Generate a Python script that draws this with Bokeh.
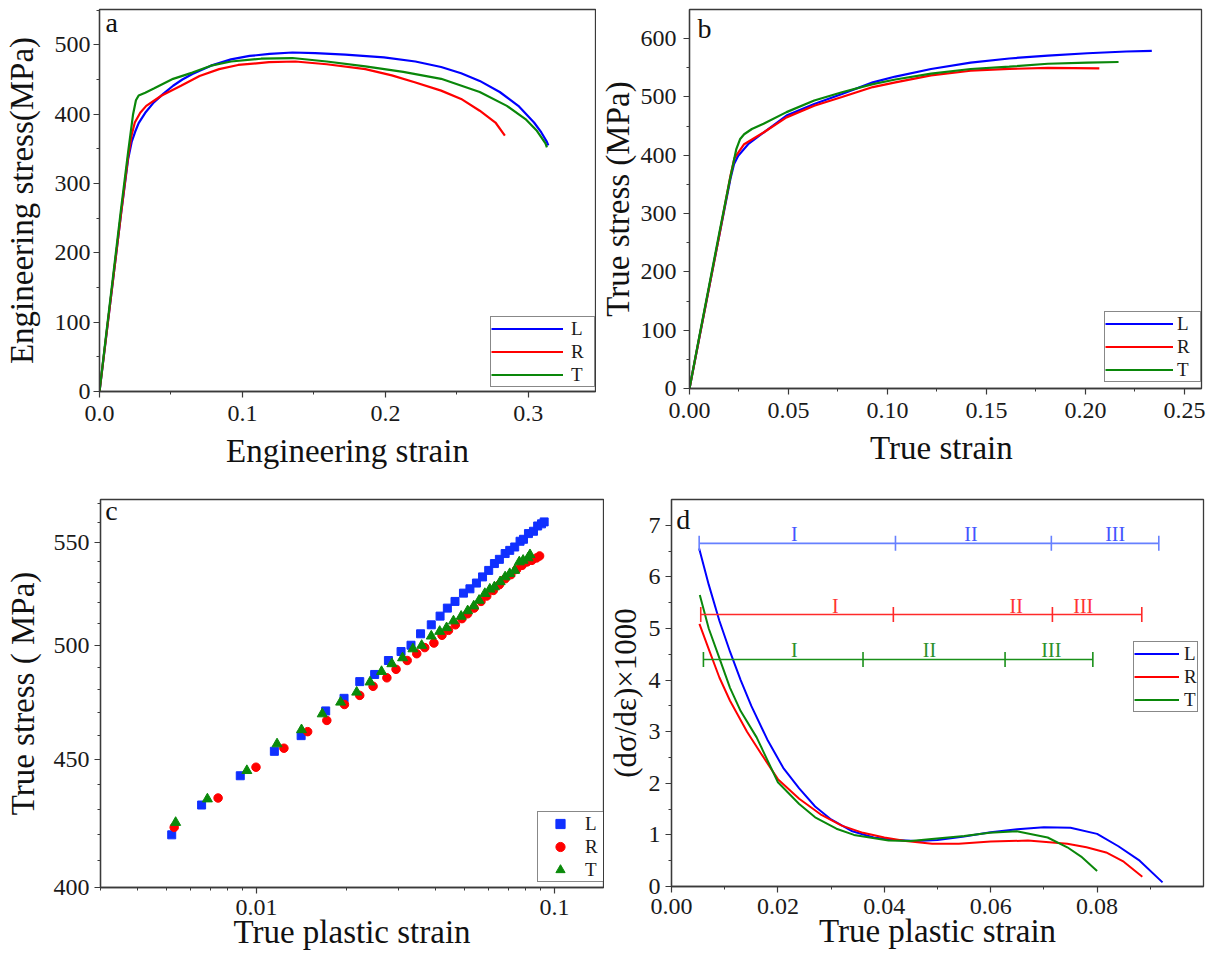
from bokeh.plotting import figure
from bokeh.layouts import column, row
from bokeh.models import FixedTicker, Label, Range1d, NumeralTickFormatter
from bokeh.embed import file_html
from bokeh.resources import INLINE
from bokeh.core.properties import value

FONT = "Liberation Serif"
BLUE, RED, GREEN = "#0000ff", "#ff0000", "#0a870a"

# ---------------- data: panel a (engineering stress-strain) ----------------
a_L_x = [0.0, 0.005, 0.010, 0.015, 0.020, 0.0225, 0.025, 0.0274, 0.032, 0.038, 0.045, 0.0515, 0.058, 0.065, 0.078,
         0.092, 0.105, 0.119, 0.135, 0.151, 0.172, 0.199, 0.221, 0.239, 0.253, 0.266, 0.280, 0.293, 0.304, 0.309,
         0.313, 0.314]
a_L_y = [0, 85, 170, 255, 335, 360, 375, 387, 402, 417, 430, 441, 450, 458, 470, 479, 484, 487, 489, 488, 486,
         482, 476, 468, 459, 448, 432, 412, 388, 374, 360, 355]
a_R_x = [0.0, 0.005, 0.010, 0.015, 0.020, 0.0225, 0.0247, 0.0285, 0.0327, 0.0435, 0.057, 0.070, 0.0837, 0.097,
         0.1186, 0.137, 0.159, 0.186, 0.2045, 0.2205, 0.239, 0.253, 0.266, 0.277, 0.2836]
a_R_y = [0, 85, 170, 255, 338, 370, 388, 402, 412, 427, 441, 455, 465, 471, 475, 476, 472, 465, 456, 446, 434,
         422, 405, 388, 369]
a_T_x = [0.0, 0.005, 0.010, 0.015, 0.020, 0.0235, 0.0255, 0.0274, 0.032, 0.038, 0.0515, 0.065, 0.078, 0.092,
         0.113, 0.135, 0.159, 0.186, 0.2125, 0.239, 0.266, 0.285, 0.298, 0.306, 0.312, 0.313]
a_T_y = [0, 88, 175, 262, 345, 400, 420, 427, 431, 437, 451, 460, 470, 476, 480, 481, 476, 469, 461, 451, 432,
         412, 393, 376, 358, 352]

# ---------------- data: panel b (true stress-strain) ----------------
b_L_x = [0.0, 0.005, 0.010, 0.015, 0.0207, 0.0225, 0.0246, 0.0296, 0.0374, 0.049, 0.063, 0.077, 0.0926, 0.104,
         0.122, 0.142, 0.1615, 0.181, 0.201, 0.2206, 0.2335]
b_L_y = [0, 88, 175, 262, 360, 385, 399, 419, 439, 468, 488, 505, 525, 535, 548, 559, 566, 571, 575, 578, 579]
b_R_x = [0.0, 0.005, 0.010, 0.015, 0.0207, 0.0227, 0.0276, 0.0374, 0.049, 0.063, 0.077, 0.0926, 0.104, 0.122,
         0.142, 0.1615, 0.181, 0.207]
b_R_y = [0, 88, 175, 262, 365, 395, 419, 439, 465, 485, 500, 517, 525, 537, 545, 548, 550, 549]
b_T_x = [0.0, 0.005, 0.010, 0.015, 0.020, 0.0236, 0.0256, 0.0276, 0.0315, 0.0374, 0.049, 0.063, 0.077, 0.0926,
         0.104, 0.122, 0.142, 0.1615, 0.181, 0.201, 0.2167]
b_T_y = [0, 90, 178, 266, 352, 410, 428, 436, 445, 454, 474, 494, 508, 522, 530, 540, 548, 552, 557, 559, 560]

# ---------------- data: panel c (log-log true stress vs true plastic strain) ----------------
c_L_x = [0.00520, 0.00655, 0.00883, 0.01149, 0.01413, 0.01708, 0.01968, 0.02222, 0.02493, 0.02773, 0.03057,
         0.03301, 0.03554, 0.03861, 0.04132, 0.04371, 0.04637, 0.04950, 0.05204, 0.05472, 0.05736, 0.06015,
         0.06287, 0.06533, 0.06830, 0.07076, 0.07353, 0.07664, 0.07870, 0.08178, 0.08501, 0.08780, 0.09044,
         0.09233]
c_L_y = [419.9, 431.6, 443.4, 453.5, 460.1, 470.7, 476.2, 483.6, 486.8, 493.1, 497.2, 500.1, 505.4, 509.6,
         513.7, 517.5, 520.7, 524.7, 526.8, 529.6, 532.6, 535.8, 539.2, 541.3, 544.2, 545.8, 547.5, 550.4,
         551.4, 554.3, 555.5, 558.2, 559.3, 560.3]
c_R_x = [0.00530, 0.00744, 0.00997, 0.01237, 0.01486, 0.01723, 0.01974, 0.02222, 0.02463, 0.02740, 0.02941,
         0.03205, 0.03451, 0.03671, 0.03940, 0.04194, 0.04410, 0.04651, 0.04891, 0.05113, 0.05375, 0.05668,
         0.05926, 0.06231, 0.06533, 0.06830, 0.07140, 0.07463, 0.07782, 0.08086, 0.08402, 0.08705, 0.08913]
c_R_y = [422.8, 434.4, 446.9, 454.8, 461.8, 466.6, 473.5, 477.5, 481.5, 485.3, 489.1, 493.1, 496.2, 499.0,
         501.1, 504.7, 507.0, 509.6, 512.5, 514.8, 517.5, 520.7, 523.3, 526.0, 528.8, 531.7, 533.7, 536.3,
         538.3, 540.0, 540.8, 542.0, 543.0]
c_T_x = [0.00536, 0.00685, 0.00929, 0.01173, 0.01417, 0.01663, 0.01917, 0.02170, 0.02406, 0.02629, 0.02848,
         0.03093, 0.03350, 0.03585, 0.03861, 0.04120, 0.04345, 0.04583, 0.04862, 0.05113, 0.05359, 0.05585,
         0.05839, 0.06068, 0.06287, 0.06572, 0.06830, 0.07076, 0.07353, 0.07619, 0.07846, 0.08153, 0.08275]
c_T_y = [424.7, 434.0, 445.5, 456.6, 462.6, 469.4, 474.5, 478.9, 483.4, 488.1, 491.6, 494.3, 498.4, 500.0,
         504.3, 506.5, 508.2, 511.4, 513.6, 516.2, 518.5, 521.2, 524.5, 526.6, 527.7, 530.2, 532.6, 534.2,
         535.8, 540.0, 540.8, 542.0, 543.6]

# ---------------- data: panel d (work hardening rate) ----------------
d_L_x = [0.0052, 0.007, 0.009, 0.011, 0.013, 0.015, 0.018, 0.021, 0.024, 0.027, 0.030, 0.034, 0.038, 0.042,
         0.046, 0.050, 0.055, 0.060, 0.065, 0.070, 0.075, 0.080, 0.084, 0.088, 0.0923]
d_L_y = [6.55, 5.85, 5.15, 4.55, 4.0, 3.5, 2.85, 2.3, 1.9, 1.55, 1.3, 1.07, 0.95, 0.9, 0.88, 0.9, 0.97, 1.05,
         1.11, 1.15, 1.14, 1.02, 0.78, 0.5, 0.08]
d_R_x = [0.00525, 0.007, 0.009, 0.011, 0.0142, 0.017, 0.020, 0.024, 0.028, 0.032, 0.036, 0.040, 0.044, 0.049,
         0.054, 0.060, 0.067, 0.0744, 0.078, 0.0817, 0.085, 0.0885]
d_R_y = [5.09, 4.6, 4.05, 3.6, 3.0, 2.55, 2.08, 1.7, 1.4, 1.18, 1.04, 0.95, 0.88, 0.83, 0.83, 0.87, 0.89, 0.83,
         0.76, 0.66, 0.48, 0.19]
d_T_x = [0.00532, 0.007, 0.00875, 0.011, 0.013, 0.016, 0.020, 0.024, 0.027, 0.031, 0.0343, 0.0408, 0.045,
         0.0489, 0.055, 0.0598, 0.0649, 0.0707, 0.0744, 0.077, 0.080]
d_T_y = [5.65, 5.0, 4.5, 3.85, 3.4, 2.89, 2.02, 1.6, 1.34, 1.12, 1.0, 0.89, 0.88, 0.92, 0.98, 1.04, 1.07, 0.95,
         0.76, 0.58, 0.30]

stage_names = ["I", "II", "III"]
stage_L_level, stage_R_level, stage_T_level = 6.65, 5.27, 4.40
stage_L_bounds = [0.0052, 0.0421, 0.0714, 0.0916]
stage_R_bounds = [0.0055, 0.0417, 0.0716, 0.0884]
stage_T_bounds = [0.0060, 0.0360, 0.0627, 0.0792]
stage_L_label_x = [0.0231, 0.0563, 0.0834]
stage_R_label_x = [0.0308, 0.0648, 0.0774]
stage_T_label_x = [0.0231, 0.0485, 0.0714]


def make_fig(fw, fh, xr, yr, bl, br, bt, bb, **kw):
    p = figure(frame_width=fw, frame_height=fh, x_range=xr, y_range=yr,
               min_border_left=bl, min_border_right=br, min_border_top=bt, min_border_bottom=bb,
               output_backend="svg", toolbar_location=None, **kw)
    p.title.visible = False
    p.grid.visible = False
    p.background_fill_color = "white"
    p.border_fill_color = "white"
    p.outline_line_color = "#3a3a3a"
    p.outline_line_width = 1.3
    for ax in p.axis:
        ax.axis_line_color = "#3a3a3a"
        ax.axis_line_width = 1.3
        ax.major_tick_line_color = "#3a3a3a"
        ax.minor_tick_line_color = "#3a3a3a"
        ax.major_tick_line_width = 1.2
        ax.minor_tick_line_width = 1.0
        ax.major_tick_in = 0
        ax.major_tick_out = 6
        ax.minor_tick_in = 0
        ax.minor_tick_out = 3
        ax.major_label_text_font = FONT
        ax.major_label_text_font_size = "24px"
        ax.major_label_text_color = "#1a1a1a"
        ax.axis_label_text_font = FONT
        ax.axis_label_text_font_size = "33px"
        ax.axis_label_text_font_style = "normal"
        ax.axis_label_text_color = "#111111"
    return p


def standoffs(p, ymaj, ylab, xmaj, xlab):
    for ax in p.yaxis:
        ax.major_label_standoff = ymaj
        ax.axis_label_standoff = ylab
    for ax in p.xaxis:
        ax.major_label_standoff = xmaj
        ax.axis_label_standoff = xlab


def style_legend(p, loc, glyph_w, standoff, label_w):
    lg = p.legend[0]
    lg.location = loc
    lg.padding = 0
    lg.spacing = 0
    lg.margin = 0
    lg.glyph_width = glyph_w
    lg.glyph_height = 23
    lg.label_height = 23
    lg.label_width = label_w
    lg.label_standoff = standoff
    lg.label_text_font = FONT
    lg.label_text_font_size = "19px"
    lg.label_text_color = "#1a1a1a"
    lg.border_line_color = "#111111"
    lg.border_line_width = 1.5
    lg.background_fill_alpha = 1.0


def letter(p, x, y, t):
    p.add_layout(Label(x=x, y=y, text=t, text_font=FONT, text_font_size="28px",
                       text_baseline="alphabetic", text_color="#111111"))


# ---------------- panel a ----------------
pa = make_fig(496, 382, Range1d(0, 0.347), Range1d(0, 551), 99, 1, 7, 92)
pa.xaxis.ticker = FixedTicker(ticks=[0.0, 0.1, 0.2, 0.3], minor_ticks=[0.05, 0.15, 0.25])
pa.yaxis.ticker = FixedTicker(ticks=[0, 100, 200, 300, 400, 500],
                              minor_ticks=[50, 150, 250, 350, 450, 550])
pa.xaxis.formatter = NumeralTickFormatter(format="0.0")
pa.xaxis.axis_label = "Engineering strain"
pa.yaxis.axis_label = "Engineering stress(MPa)"
standoffs(pa, 3, 12, 8, 9)
for xs, ys, c, n in [(a_L_x, a_L_y, BLUE, "L"), (a_R_x, a_R_y, RED, "R"), (a_T_x, a_T_y, GREEN, "T")]:
    pa.line(xs, ys, line_color=c, line_width=2.2, legend_label=n)
style_legend(pa, (391, 4), 72, 8, 23)
letter(pa, 0.0042, 532, "a")

# ---------------- panel b ----------------
pb = make_fig(512, 379, Range1d(0, 0.2586), Range1d(0, 650), 93, 8, 9, 93)
pb.xaxis.ticker = FixedTicker(ticks=[0.0, 0.05, 0.10, 0.15, 0.20, 0.25],
                              minor_ticks=[0.025, 0.075, 0.125, 0.175, 0.225])
pb.yaxis.ticker = FixedTicker(ticks=[0, 100, 200, 300, 400, 500, 600],
                              minor_ticks=[50, 150, 250, 350, 450, 550])
pb.xaxis.formatter = NumeralTickFormatter(format="0.00")
pb.xaxis.axis_label = "True  strain"
pb.yaxis.axis_label = "True stress (MPa)"
standoffs(pb, 7, 2, 8, 9)
for xs, ys, c, n in [(b_L_x, b_L_y, BLUE, "L"), (b_R_x, b_R_y, RED, "R"), (b_T_x, b_T_y, GREEN, "T")]:
    pb.line(xs, ys, line_color=c, line_width=2.2, legend_label=n)
style_legend(pb, (415, 6), 68, 4, 23)
letter(pb, 0.004, 617, "b")

# ---------------- panel c ----------------
pc = make_fig(503, 388, Range1d(0.003, 0.146), Range1d(400, 572), 100, 1, 16, 72,
              x_axis_type="log", y_axis_type="log")
pc.xaxis.ticker = FixedTicker(ticks=[0.01, 0.1],
                              minor_ticks=[0.003, 0.004, 0.005, 0.006, 0.007, 0.008, 0.009,
                                           0.02, 0.03, 0.04, 0.05, 0.06, 0.07, 0.08, 0.09])
pc.yaxis.ticker = FixedTicker(ticks=[400, 450, 500, 550],
                              minor_ticks=[410, 420, 430, 440, 460, 470, 480, 490, 510, 520, 530, 540,
                                           560, 570])
pc.xaxis.major_label_overrides = {0.01: "0.01", 0.1: "0.1"}
pc.yaxis.formatter = NumeralTickFormatter(format="0")
pc.xaxis.axis_label = "True plastic strain"
pc.yaxis.axis_label = "True stress ( MPa)"
standoffs(pc, 5, 10, 6, -4)
pc.scatter(c_L_x, c_L_y, marker="square", size=8, color="#1030ff", legend_label="L")
pc.scatter(c_R_x, c_R_y, marker="circle", size=8.5, color=RED, legend_label="R")
pc.scatter(c_T_x, c_T_y, marker="triangle", size=10, color="#0a8a0a", legend_label="T")
style_legend(pc, (437, 5), 44, 3, 19)
letter(pc, 0.00311, 566, "c")

# ---------------- panel d ----------------
pd_ = make_fig(532, 387, Range1d(0, 0.1), Range1d(0, 7.5), 66, 7, 18, 71)
pd_.xaxis.ticker = FixedTicker(ticks=[0.0, 0.02, 0.04, 0.06, 0.08],
                               minor_ticks=[0.01, 0.03, 0.05, 0.07, 0.09])
pd_.yaxis.ticker = FixedTicker(ticks=[0, 1, 2, 3, 4, 5, 6, 7],
                               minor_ticks=[0.5, 1.5, 2.5, 3.5, 4.5, 5.5, 6.5])
pd_.xaxis.formatter = NumeralTickFormatter(format="0.00")
pd_.xaxis.axis_label = "True plastic strain"
pd_.yaxis.axis_label = "(dσ/dε)×1000"
standoffs(pd_, 5, 3, 6, -4)
for ax in pd_.yaxis:
    ax.axis_label_text_font_size = "31px"
for xs, ys, c, n in [(d_L_x, d_L_y, BLUE, "L"), (d_R_x, d_R_y, RED, "R"), (d_T_x, d_T_y, GREEN, "T")]:
    pd_.line(xs, ys, line_color=c, line_width=2.0, legend_label=n)
style_legend(pd_, (462, 174), 45, 5, 13)

for level, bounds, lab_x, bar_c, txt_c in [
        (stage_L_level, stage_L_bounds, stage_L_label_x, "#6680ff", "#4455ff"),
        (stage_R_level, stage_R_bounds, stage_R_label_x, "#ff2a2a", "#ff3333"),
        (stage_T_level, stage_T_bounds, stage_T_label_x, "#1a901a", "#2a902a")]:
    pd_.segment(x0=[bounds[0]], y0=[level], x1=[bounds[-1]], y1=[level], line_color=bar_c, line_width=1.6)
    pd_.scatter(bounds, [level] * len(bounds), marker="dash", angle=1.5708, size=15,
                line_color=bar_c, line_width=1.6)
    pd_.text(lab_x, [level] * len(lab_x), text=stage_names, text_font=value(FONT),
             text_font_size="20px", text_color=txt_c, text_align="center",
             text_baseline="alphabetic", y_offset=-9)
letter(pd_, 0.0009, 7.12, "d")

layout = column(row(pa, pb), row(pc, pd_))
open("out.html", "w").write(file_html(layout, INLINE))
